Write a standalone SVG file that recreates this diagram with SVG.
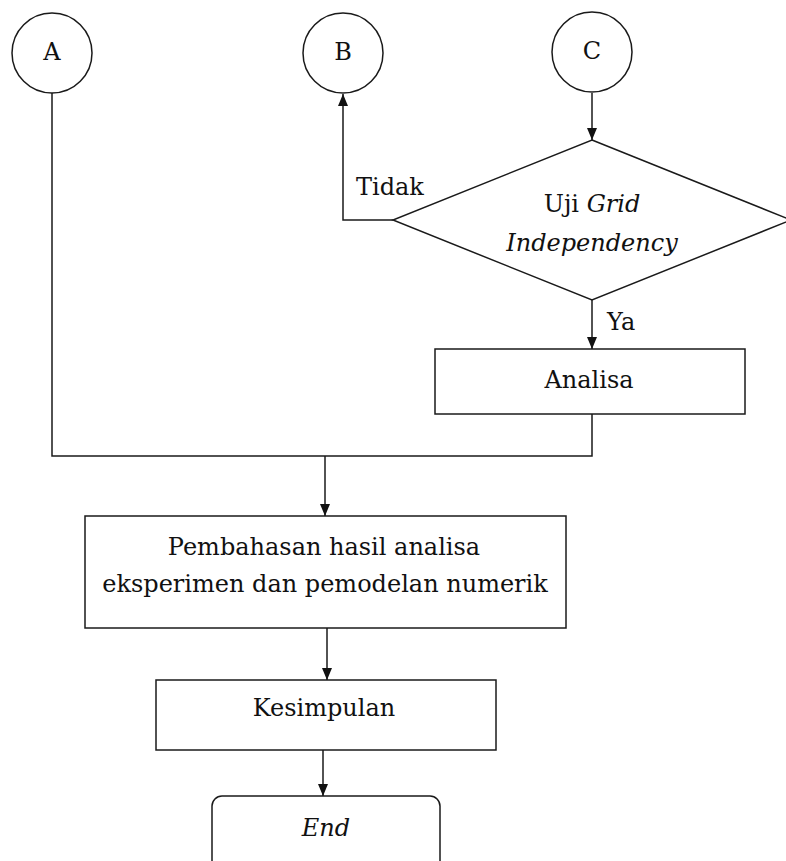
<svg xmlns="http://www.w3.org/2000/svg" width="786" height="861" viewBox="0 0 786 861">
<style>
.s{fill:#fff;stroke:#1a1a1a;stroke-width:1.5}
.c{fill:none;stroke:#1a1a1a;stroke-width:1.5}
text{font-family:"DejaVu Serif","Liberation Serif",serif;font-size:24px;fill:#111}
.m{text-anchor:middle}
.i{font-style:italic}
</style>
<defs>
<marker id="ah" viewBox="0 0 12 10" refX="12" refY="5" markerWidth="12" markerHeight="10" markerUnits="userSpaceOnUse" orient="auto">
<path d="M0,0 L12,5 L0,10 Z" fill="#111"/>
</marker>
</defs>
<rect width="786" height="861" fill="#fff"/>
<g id="connectors">
<line class="c" x1="592" y1="93" x2="592" y2="140" marker-end="url(#ah)"/>
<polyline class="c" points="393,220 343,220 343,94" marker-end="url(#ah)"/>
<line class="c" x1="592" y1="300" x2="592" y2="349" marker-end="url(#ah)"/>
<polyline class="c" points="52,93 52,456 592,456 592,414"/>
<line class="c" x1="325" y1="456" x2="325" y2="516" marker-end="url(#ah)"/>
<line class="c" x1="327" y1="628" x2="327" y2="680" marker-end="url(#ah)"/>
<line class="c" x1="323" y1="750" x2="323" y2="796" marker-end="url(#ah)"/>
<text x="356" y="195">Tidak</text>
<text x="607" y="330">Ya</text>
</g>
<g id="A"><circle class="s" cx="52" cy="53" r="40"/><text class="m" x="52" y="60">A</text></g>
<g id="B"><circle class="s" cx="343" cy="53" r="40"/><text class="m" x="343" y="60">B</text></g>
<g id="C"><circle class="s" cx="592" cy="52" r="40"/><text class="m" x="592" y="59">C</text></g>
<g id="uji"><polygon class="s" points="592,140 791,220 592,300 393,220"/>
<text class="m" x="592" y="212">Uji <tspan class="i">Grid</tspan></text>
<text class="m i" x="592" y="251">Independency</text></g>
<g id="analisa"><rect class="s" x="435" y="349" width="310" height="65"/><text class="m" x="589" y="388">Analisa</text></g>
<g id="pembahasan"><rect class="s" x="85" y="516" width="481" height="112"/>
<text class="m" x="324" y="555">Pembahasan hasil analisa</text>
<text class="m" x="325" y="592">eksperimen dan pemodelan numerik</text></g>
<g id="kesimpulan"><rect class="s" x="156" y="680" width="340" height="70"/><text class="m" x="324" y="716">Kesimpulan</text></g>
<g id="end"><rect class="s" x="212" y="796" width="228" height="80" rx="10"/><text class="m i" x="326" y="836">End</text></g>
</svg>
